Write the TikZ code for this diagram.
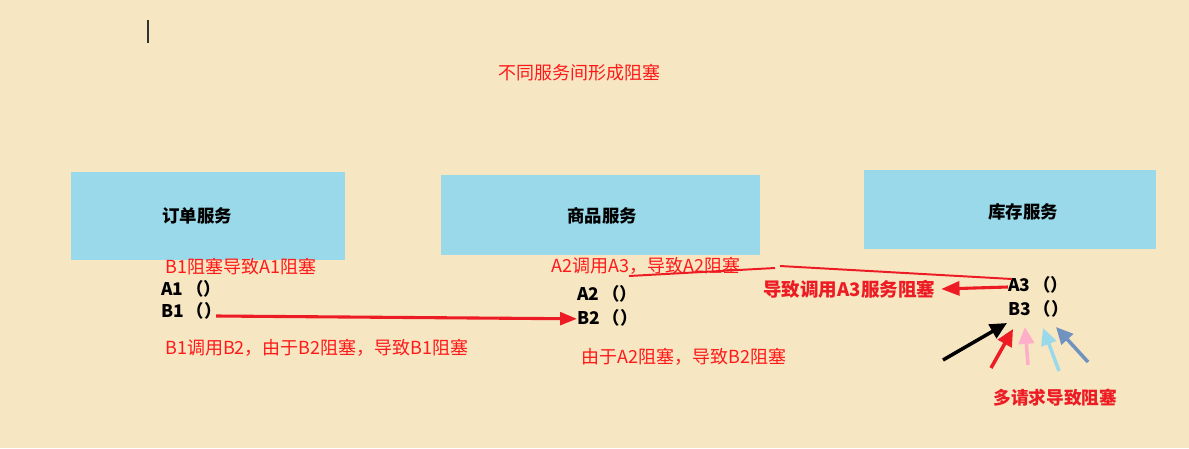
\documentclass[tikz,border=0pt]{standalone}
\usepackage{fontspec}
\usepackage{xcolor}
\newfontfamily\cjk{Noto Sans CJK SC}
\usetikzlibrary{arrows.meta}

\definecolor{paper}{HTML}{F7E6C2}
\definecolor{svcblue}{HTML}{99D9EA}
\definecolor{notered}{HTML}{FF1A1A}
\definecolor{markred}{HTML}{ED1C24}
\definecolor{markpink}{HTML}{FFAEC9}
\definecolor{markblue}{HTML}{99D9EA}
\definecolor{marksteel}{HTML}{7092BE}

\tikzset{
  svc/.style={fill=svcblue, inner sep=0},
  svcname/.style={font=\cjk\bfseries\fontsize{12.4}{14}\selectfont},
  note/.style={anchor=west, inner sep=0, text=notered, font=\cjk\fontsize{12.8}{15}\selectfont},
  fn/.style={anchor=west, inner sep=0, font=\cjk\bfseries\fontsize{12.4}{14}\selectfont},
  warn/.style={anchor=west, inner sep=0, text=markred, font=\cjk\bfseries\fontsize{13.2}{16}\selectfont},
  req/.style={line width=2.5pt, -{Triangle[length=12pt, width=11pt]}}
}

\begin{document}
\begin{tikzpicture}[x=0.025cm, y=-0.025cm]

\fill [paper] (0,0) rectangle (1189,448);
\useasboundingbox (0,0) rectangle (1189,448);

\draw [line width=1pt, black!80] (148,20) -- (148,43);

\node[note, anchor=center] (title) at (579,73) {不同服务间形成阻塞};

\node[svc, minimum width=6.85cm, minimum height=2.2cm] (order) at (208,216) {};
\node[svc, minimum width=7.975cm, minimum height=2cm] (goods) at (600.5,215) {};
\node[svc, minimum width=7.3cm, minimum height=1.975cm] (stock) at (1010,209.5) {};
\node[svcname] at (197,216) {订单服务};
\node[svcname] at (602,216) {商品服务};
\node[svcname] at (1023,212) {库存服务};

\node[note] (n1) at (165,267) {B1阻塞导致A1阻塞};
\node[fn] (a1) at (161,289) {A1\,（）};
\node[fn] (b1) at (161,311) {B1\,（）};
\node[note] (n2) at (165,348) {B1调用B2，由于B2阻塞，导致B1阻塞};

\node[note] (n3) at (551,266) {A2调用A3，导致A2阻塞};
\node[fn] (a2) at (577,294) {A2\,（）};
\node[fn] (b2) at (577,318) {B2\,（）};
\node[note] (n4) at (581,357) {由于A2阻塞，导致B2阻塞};

\node[fn] (a3) at (1008,285) {A3\,（）};
\node[fn] (b3) at (1008,309) {B3\,（）};
\node[warn] (n5) at (763,289) {导致调用A3服务阻塞};
\node[warn, font=\cjk\bfseries\fontsize{12.6}{15}\selectfont] (n6) at (993,398) {多请求导致阻塞};

\draw [line width=2.2pt, markred, -{Triangle[length=12pt, width=9pt]}]
  ([shift={(-6,5)}]b1.east) -- ([yshift=-0.02cm]b2.west);

\coordinate (k1) at (629,276);
\coordinate (k2) at (775,268);
\coordinate (k3) at (780,266);
\draw [line width=1.4pt, markred] (k1) -- (k2);
\draw [line width=1.4pt, markred] (k3) -- ([shift={(4,-6)}]a3.west);

\draw [line width=2.2pt, markred, -{Triangle[length=13pt, width=10pt]}]
  ([yshift=-0.05cm]a3.west) -- ([xshift=4]n5.east);

\coordinate (s1) at (943,360);
\coordinate (s2) at (991,368);
\coordinate (s3) at (1028,365);
\coordinate (s4) at (1059,371);
\coordinate (s5) at (1088,362);
\draw [req, black] (s1) -- ([shift={(-1,14)}]b3.west);
\draw [req, markred] (s2) -- ([shift={(5,20)}]b3.west);
\draw [req, markpink] (s3) -- ([shift={(17,18)}]b3.west);
\draw [req, markblue] (s4) -- ([shift={(35,19)}]b3.west);
\draw [req, marksteel] (s5) -- ([shift={(48,18)}]b3.west);

\end{tikzpicture}
\end{document}
